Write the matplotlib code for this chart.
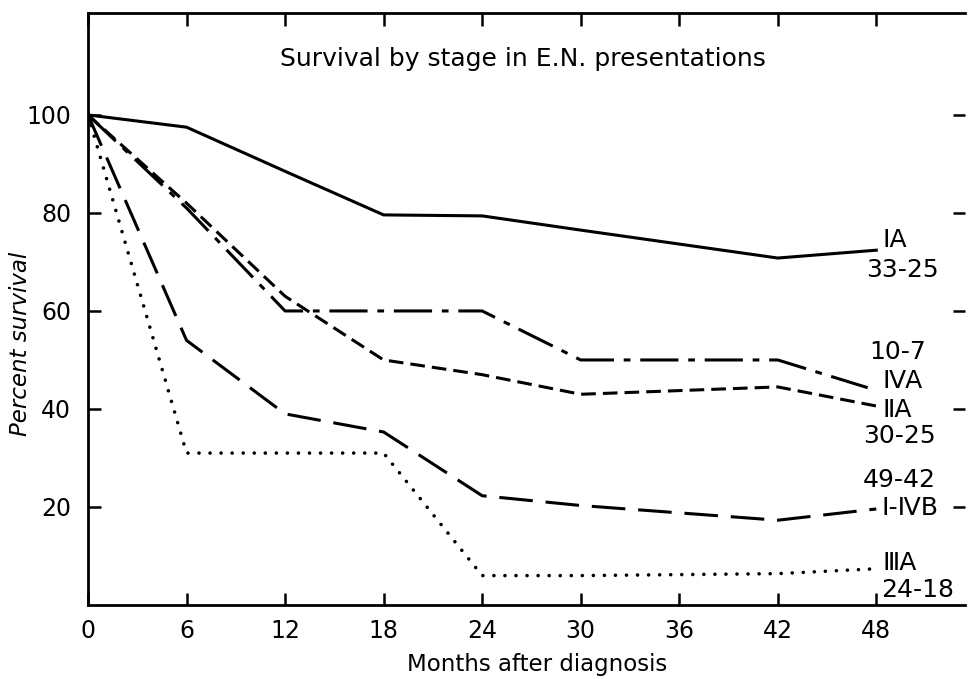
import matplotlib
matplotlib.use("Agg")
import matplotlib.pyplot as plt

# data
months = [0, 6, 12, 18, 24, 30, 42, 48]
stage_1a = [100, 97.5, 88.5, 79.6, 79.4, 76.5, 70.8, 72.4]
stage_4a = [100, 81, 60, 60, 60, 50, 50, 43.8]
stage_2a = [100, 82, 63, 50, 47, 43, 44.5, 40.6]
stage_1_4b = [100, 54, 39, 35.3, 22.3, 20.3, 17.3, 19.6]
stage_3a = [100, 31, 31, 31, 6, 6, 6.4, 7.4]

xticks = [0, 6, 12, 18, 24, 30, 36, 42, 48]
yticks = [20, 40, 60, 80, 100]

plt.rcParams['font.family'] = ['DejaVu Sans']

fig = plt.figure(figsize=(9.68, 6.79), dpi=100)
ax = fig.add_axes([88/968, 74/679, 877/968, 592/679])

lw = 2.2
ax.plot(months, stage_1a, color="black", lw=lw)
ax.plot(months, stage_4a, color="black", lw=lw, linestyle=(0, (12.5, 3.2, 2.2, 3.2)))
ax.plot(months, stage_2a, color="black", lw=lw, linestyle=(0, (4.8, 2.3)))
ax.plot(months, stage_1_4b, color="black", lw=lw, linestyle=(0, (11, 4.2)))
ax.plot(months, stage_3a, color="black", lw=2.6, linestyle=(0, (0.01, 3.05)),
        dash_capstyle="round")

ax.set_xlim(0, 53.4)
ax.set_ylim(0, 120.8)

ax.spines["right"].set_visible(False)
for s in ["left", "top", "bottom"]:
    ax.spines[s].set_linewidth(2)

ax.set_xticks(xticks)
ax.set_xticklabels([str(v) for v in xticks], fontsize=17)
ax.set_yticks(yticks)
ax.set_yticklabels([str(v) for v in yticks], fontsize=17)
ax.tick_params(axis="both", direction="in", length=9, width=1.8,
               top=True, right=True, pad=12)
ax.tick_params(axis="x", pad=10)

# axis titles placed like the scanned figure
fig.text(537/968, 1 - 665/679, "Months after diagnosis", fontsize=16.5,
         ha="center", va="center")
fig.text(21/968, 1 - 344/679, "Percent survival", fontsize=16.5, style="italic",
         rotation=90, ha="center", va="center")

ax.text(26.5, 111.5, "Survival by stage in E.N. presentations",
        ha="center", va="center", fontsize=18)

fs = 18
ax.text(48.4, 74.5, "ⅠA", fontsize=fs, va="center", ha="left")
ax.text(47.4, 68.4, "33-25", fontsize=fs, va="center", ha="left")
ax.text(47.6, 51.6, "10-7", fontsize=fs, va="center", ha="left")
ax.text(48.4, 45.7, "ⅣA", fontsize=fs, va="center", ha="left")
ax.text(48.4, 39.8, "ⅡA", fontsize=fs, va="center", ha="left")
ax.text(47.2, 34.5, "30-25", fontsize=fs, va="center", ha="left")
ax.text(47.2, 25.5, "49-42", fontsize=fs, va="center", ha="left")
ax.text(48.3, 19.8, "I-ⅣB", fontsize=fs, va="center", ha="left")
ax.text(48.4, 8.6, "ⅢA", fontsize=fs, va="center", ha="left")
ax.text(48.3, 3.1, "24-18", fontsize=fs, va="center", ha="left")

fig.savefig("out.png", dpi=100)
